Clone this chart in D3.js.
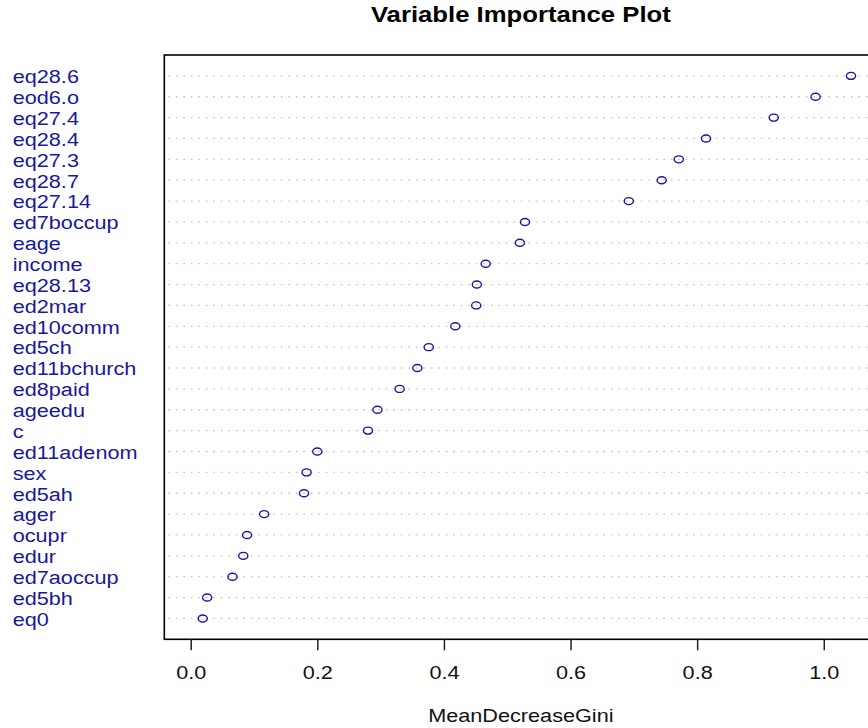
<!DOCTYPE html>
<html>
<head>
<meta charset="utf-8">
<script src="https://cdn.jsdelivr.net/npm/d3@7"></script>
<style>
  body { margin: 0; background: #fff; }
  svg { display: block; font-family: "Liberation Sans", Arial, Helvetica, sans-serif; }
</style>
</head>
<body>
<div id="chart"></div>
<script>
// variables, top to bottom as in the plot
var variables = ["eq28.6", "eod6.o", "eq27.4", "eq28.4", "eq27.3", "eq28.7", "eq27.14",
  "ed7boccup", "eage", "income", "eq28.13", "ed2mar", "ed10comm", "ed5ch", "ed11bchurch",
  "ed8paid", "ageedu", "c", "ed11adenom", "sex", "ed5ah", "ager", "ocupr", "edur",
  "ed7aoccup", "ed5bh", "eq0"];
var meanDecreaseGini = [1.043, 0.987, 0.921, 0.814, 0.771, 0.744, 0.692,
  0.528, 0.520, 0.466, 0.452, 0.451, 0.418, 0.376, 0.358,
  0.330, 0.295, 0.280, 0.200, 0.183, 0.179, 0.116, 0.089, 0.083,
  0.066, 0.026, 0.019];
var xTicks = [0, 0.2, 0.4, 0.6, 0.8, 1.0];

var width = 868, height = 728;
var box = { left: 164.3, top: 55, right: 877.4, bottom: 639.3 };
var stretch = 1.19;          // the picture is wider than tall, text too
var fontPx = 18.2;
var blue = "#18189c";

var svg = d3.select("#chart").append("svg")
  .attr("width", width)
  .attr("height", height);

var n = variables.length;
var xmax = d3.max(meanDecreaseGini), xmin = 0;
var pad = 0.04 * (xmax - xmin);

var x = d3.scaleLinear()
  .domain([xmin - pad, xmax + pad])
  .range([box.left, box.right]);

// row 1 at the bottom, row n at the top
var y = d3.scaleLinear()
  .domain([0, n + 1])
  .range([box.bottom, box.top]);

var rows = variables.map(function(v, i) {
  return { name: v, value: meanDecreaseGini[i], row: n - i };
});

// dotted guide lines
svg.selectAll(".guide")
  .data(rows)
  .enter().append("line")
  .attr("class", "guide")
  .attr("x1", box.left + 4)
  .attr("x2", width)
  .attr("y1", function(d) { return y(d.row); })
  .attr("y2", function(d) { return y(d.row); })
  .attr("stroke", "#c4c4c4")
  .attr("stroke-width", 1.3)
  .attr("stroke-dasharray", "1.6,5.9");

// points
svg.selectAll(".pt")
  .data(rows)
  .enter().append("ellipse")
  .attr("class", "pt")
  .attr("cx", function(d) { return x(d.value); })
  .attr("cy", function(d) { return y(d.row); })
  .attr("rx", 4.6)
  .attr("ry", 3.5)
  .attr("fill", "none")
  .attr("stroke", blue)
  .attr("stroke-width", 1.4);

// labels on the left
svg.selectAll(".lab")
  .data(rows)
  .enter().append("text")
  .attr("class", "lab")
  .attr("transform", function(d) { return "translate(12.7," + (y(d.row) + 7.3) + ") scale(" + stretch + ",1)"; })
  .attr("fill", blue)
  .style("font-size", fontPx + "px")
  .text(function(d) { return d.name; });

// box
svg.append("rect")
  .attr("x", box.left)
  .attr("y", box.top)
  .attr("width", box.right - box.left)
  .attr("height", box.bottom - box.top)
  .attr("fill", "none")
  .attr("stroke", "#000")
  .attr("stroke-width", 1.6);

// x axis
var axis = svg.append("g")
  .attr("transform", "translate(0," + box.bottom + ")")
  .call(d3.axisBottom(x).tickValues(xTicks).tickSize(11).tickFormat(d3.format(".1f")));

axis.select(".domain").remove();
axis.selectAll(".tick line").attr("stroke", "#222").attr("stroke-width", 1.5);
axis.selectAll(".tick text")
  .attr("dy", null)
  .attr("y", null)
  .attr("transform", "translate(0,39.2) scale(" + stretch + ",1)")
  .attr("fill", "#111")
  .style("font-size", fontPx + "px")
  .style("font-family", "'Liberation Sans', Arial, sans-serif");

var midX = (box.left + box.right) / 2;

svg.append("text")
  .attr("transform", "translate(" + midX + ",721.5) scale(" + stretch + ",1)")
  .attr("text-anchor", "middle")
  .attr("fill", "#111")
  .style("font-size", fontPx + "px")
  .text("MeanDecreaseGini");

svg.append("text")
  .attr("transform", "translate(" + midX + ",22.3) scale(" + stretch + ",1)")
  .attr("text-anchor", "middle")
  .attr("fill", "#000")
  .style("font-size", "21.6px")
  .style("font-weight", "bold")
  .text("Variable Importance Plot");
</script>
</body>
</html>
